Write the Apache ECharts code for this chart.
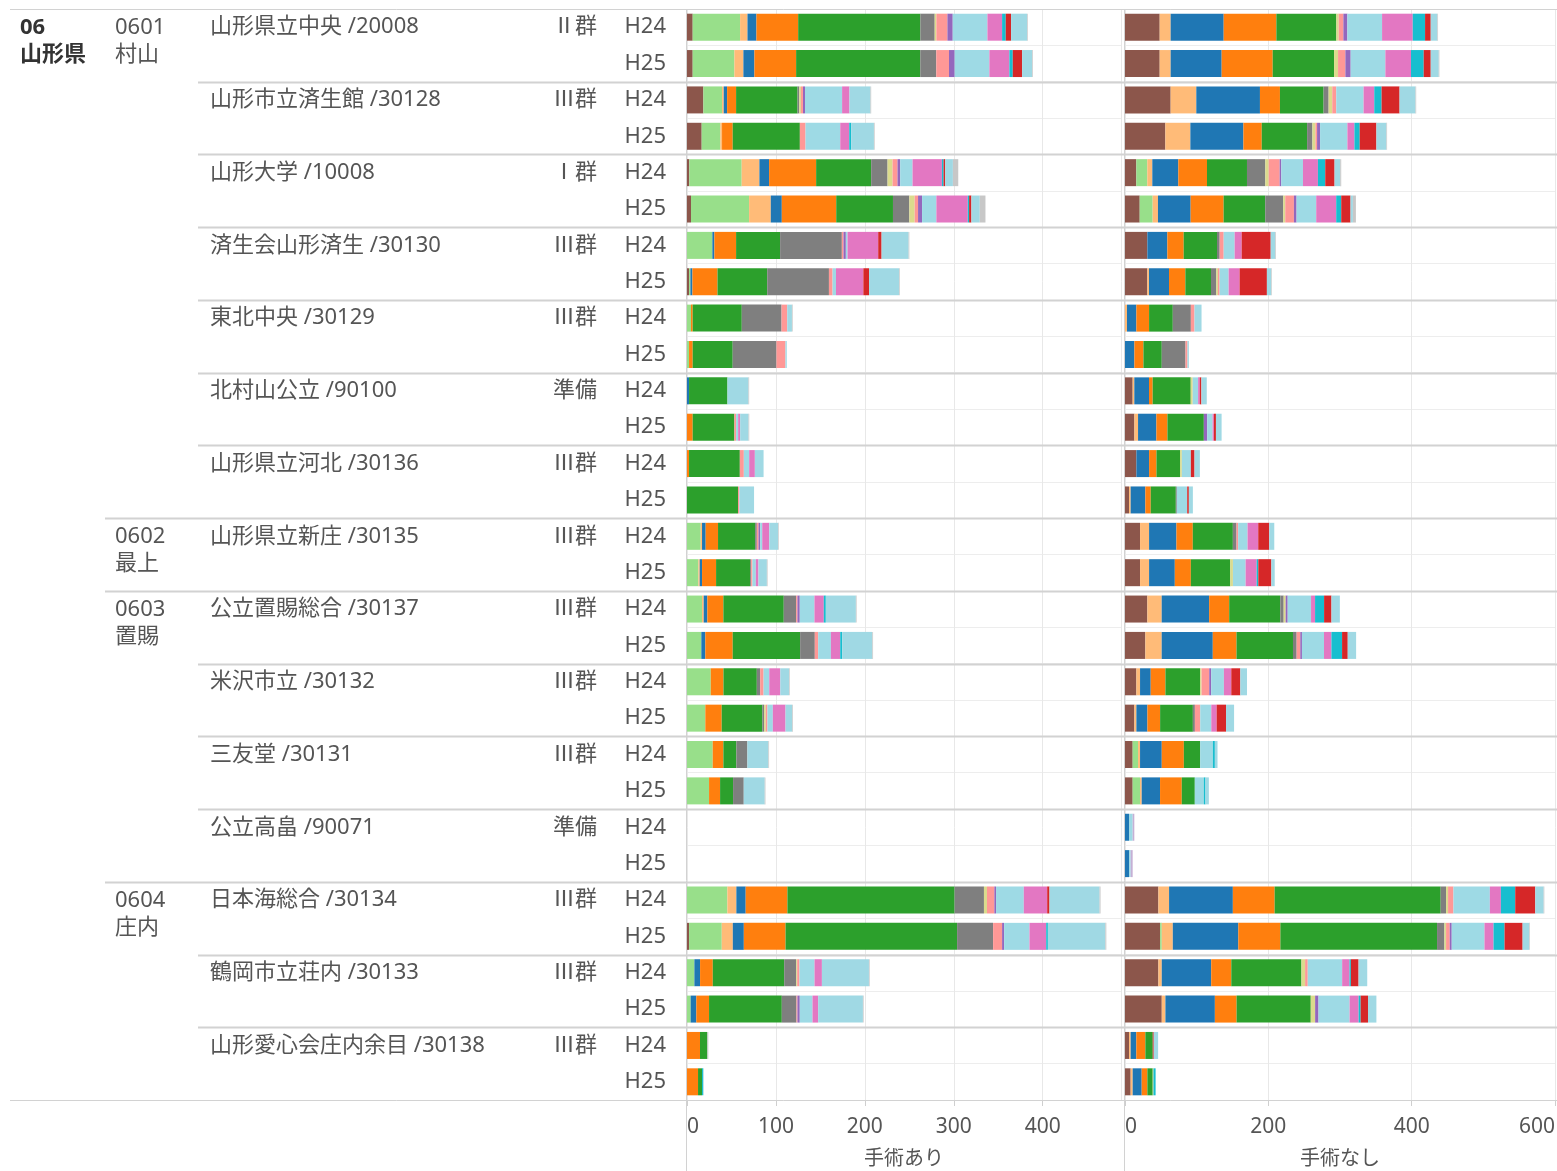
<!DOCTYPE html>
<html><head><meta charset="utf-8">
<script src="https://cdn.jsdelivr.net/npm/echarts@6/dist/echarts.min.js"></script>
<style>html,body{margin:0;padding:0;background:#fff}#main{width:1557px;height:1171px}</style>
</head><body><div id="main"></div><script>
// ---------- DATA ----------
const prefCode = '06';
const prefName = '山形県';
const regionCodes = ['0601', '0602', '0603', '0604'];
const regionNames = ['村山', '最上', '置賜', '庄内'];
const hospitalRegion = [0,0,0,0,0,0,0,1,2,2,2,2,3,3,3];
const hospitals = ['山形県立中央 /20008','山形市立済生館 /30128','山形大学 /10008','済生会山形済生 /30130','東北中央 /30129','北村山公立 /90100','山形県立河北 /30136','山形県立新庄 /30135','公立置賜総合 /30137','米沢市立 /30132','三友堂 /30131','公立高畠 /90071','日本海総合 /30134','鶴岡市立荘内 /30133','山形愛心会庄内余目 /30138'];
const groups = ['Ⅱ群','Ⅲ群','Ⅰ群','Ⅲ群','Ⅲ群','準備','Ⅲ群','Ⅲ群','Ⅲ群','Ⅲ群','Ⅲ群','準備','Ⅲ群','Ⅲ群','Ⅲ群'];
const years = ['H24', 'H25'];
const panelTitles = ['手術あり', '手術なし'];
const segColors = ['#8c564b','#98df8a','#ffbb78','#1f77b4','#ff7f0e','#2ca02c','#7f7f7f','#dbdb8d','#ff9896','#9467bd','#9edae5','#e377c2','#17becf','#d62728','#a0d9e4','#c7c7c7','#c5b0d5'];

// 手術あり (30 rows: hospital x year)
const ari01 = [6.4,6.4,18.4,16.5,2.6,4.5,0,2.3,0,0,0,0,0,0,0,0,0,0,0,0,0,0,0,0,0,2.3,0,0,0,0];
const ari02 = [53.3,46.9,21,21,58.9,65.3,28.5,1.5,4.5,2.3,0,0,0,0,15.4,12.8,16.9,16.1,26.7,20.6,28.9,24.8,0,0,45.4,36.8,8.3,4.1,0,0];
const ari03 = [8.3,10.1,1.9,1.9,19.9,24.4,0,0,0,0,0,0,0,0,1.5,1.5,1.9,0,0,0,0,0,0,0,10.1,12.4,0,0,0,0];
const ari04 = [10.1,12.4,3.8,0,10.9,12.4,2.3,2.3,0,0,2.3,0,0,0,4.1,2.6,4.1,4.5,0,0,0,0,0,0,10.5,12.4,6.4,6.4,0,0];
const ari05 = [46.9,46.9,10.1,12,52.9,61.2,24.4,28.2,1.9,4.1,0,6.4,2.3,0,13.9,15.8,18,30.8,14.3,18.4,12,12.4,0,0,46.9,46.9,14.3,14.3,14.6,12.4];
const ari06 = [137.4,139.6,69.1,75.5,61.9,63.8,49.5,55.9,55.2,45,43.2,46.9,57.1,57.4,41.7,38.3,67.9,75.8,37.5,45.8,14.6,14.6,0,0,188,192.9,80.3,81.8,8.3,4.5];
const ari07 = [16.1,18,1.9,0,18.4,18.4,69.4,69.4,44.7,49.2,0,0,0,0,1.9,1.1,13.9,16.5,3.8,1.9,12.4,12,0,0,33,40.5,13.5,16.5,0,0];
const ari08 = [1.9,0,1.9,0,5.6,6,0,0,0,0,0,0,0,0,0,0,0,0,0,1.9,0,0,0,0,3.4,0,1.1,0,0,0];
const ari09 = [12.4,14.3,2.3,6.4,5.6,3.8,1.9,4.1,6.4,10.1,0,1.9,4.5,1.5,1.9,1.5,1.5,3.8,3.8,1.9,0,0,0,0,8.3,10.1,2.6,1.1,0,0];
const ari10 = [6,6.4,2.3,0,3,4.5,2.6,0,0,0,0,0,0,0,1.9,0,2.6,0,0,0,0,0,0,0,1.9,2.3,0,2.6,0,0];
const ari11 = [39,39,41.7,39,13.9,16.1,1.9,3.8,0,0,0,2.3,6,0,2.3,3.8,16.5,14.3,6.4,6,0,0,0,0,31.2,28.5,16.9,14.3,0,0];
const ari12 = [16.5,22.5,8.3,10.1,33,35.3,34.5,30.8,0,0,0,2.3,6.4,0,7.9,3,10.5,10.5,12.4,14.3,0,0,0,0,26.3,18.8,8.3,6.4,0,0];
const ari13 = [4.1,3.8,0,2.3,1.9,1.5,0,0,0,0,0,0,0,0,0,0,2.3,2.3,0,0,0,0,0,0,0,1.9,0,0,0,1.1];
const ari14 = [6,10.5,0,0,1.9,2.6,3.8,6.4,0,0,0,0,0,0,0,0,0,0,0,0,0,0,0,0,2.6,0,0,0,0,0];
const ari15 = [18,11.3,23.6,25.5,8.6,9.4,30.4,33.8,5.3,1.5,23.6,9.4,9.8,16.5,9.8,9.4,33.8,33.8,9.8,7.5,23.6,23.6,0,0,56.3,64.6,52.9,50.3,0,0.8];
const ari16 = [0.8,0.8,0.8,0.8,6,6.4,0.8,0.8,0.8,0,0.8,0.8,0,0,0.8,0.8,0.8,0.8,0.8,0.8,0.8,0.8,0,0,1.1,1.1,0.8,0.8,1.1,0];
const ari17 = [0,0,0,0,0,0,0,0,0,0,0,0,0,0,0,0,0,0,0,0,0,0,0,0,0,0,0,0,0,0];

// 手術なし
const nashi01 = [48.4,48.4,63.7,56.3,15.8,20.5,31.2,31.2,0,0,10.7,13.1,15.9,5.6,21,21,31.2,28.4,15.9,13.1,10.7,10.7,0,0,46.6,49,46.6,51.3,5.6,7.9];
const nashi02 = [0,0,0,0,15.3,18.1,0,0,0,0,0,0,0,0,0,0,0,0,0,0,7.5,10.3,0,0,0,2.3,0,0,0,0];
const nashi03 = [15.3,15.3,35.8,34.9,7,7.4,0,2.3,2.8,0,2.3,5.1,0,2.3,12.6,12.6,20,22.8,5.1,2.8,2.8,2.3,0,0,14.9,15.4,4.7,5.1,2.3,2.8];
const nashi04 = [74,71.2,88.8,74,36.3,45.6,27.9,27.9,13.1,13.1,20.5,25.6,17.7,20.5,38.2,35.9,66.2,71.3,14.9,15.4,30.3,25.6,5.6,5.6,89,91.4,69,69,7.9,12.6];
const nashi05 = [73.5,71.2,27.9,25.6,40,46,22.8,22.8,17.7,12.6,5.1,15.4,10.3,7.5,22.8,22.4,28,33.1,20.5,17.7,30.8,30.3,0,0,58.3,58.7,28,30.3,12.6,7.9];
const nashi06 = [83.7,85.6,60.9,63.3,55.8,58.1,46.5,35.8,33.1,25.6,53.1,50.8,33.1,35,55.9,55,71.3,78.8,48.5,45.7,22.8,18.2,0,0,231.7,218.6,97.9,103.5,10.3,7.5];
const nashi07 = [0,0,7,7.4,25.6,25.1,3.7,7.4,25.2,33.1,0,0,0,1.4,5.1,0,4.7,5.1,0,2.8,0,0,0,0,7.5,10.3,0,0,0,0];
const nashi08 = [3.3,5.6,5.1,4.2,4.7,2.8,0,2.3,0,0,2.8,0,2.3,0,0,3.7,2.8,0,1.9,0,0,0,0,0,2.8,2.3,5.1,6.1,0,1];
const nashi09 = [6.5,10.2,5.6,2.3,15.3,12.1,5.6,2.3,5.1,2.8,0,0,0,0,2.3,0,0,5.1,10.7,7.5,0,0,0,0,7.5,5.1,3.7,0,0,0];
const nashi10 = [5.6,7.4,0,4.2,2.3,3.7,0,0,0,0,0,4.7,0,0,0,0,2.8,2.3,2.8,0,0,0,0,0,0,2.8,0,4.7,0,0];
const nashi11 = [48.4,48.4,38.1,38.1,30.2,27.4,15.3,12.6,0,0,7.5,7.5,12.6,14.5,13.1,17.7,32.6,30.8,17.7,15.4,17.7,12.6,5.1,2.3,50.8,45.7,48,43.4,0,0];
const nashi12 = [42.8,35.8,14.9,9.8,20.9,27.9,9.8,15.3,0,0,2.3,1.9,0,0,14.9,15.4,5.6,10.3,10.3,7.5,0,0,0,0,15.4,12.6,10.3,12.6,0,0];
const nashi13 = [17.2,17.7,10.2,7.4,10.2,7,0,0,0,0,0,0,0,0,0,2.3,12.6,14.9,0,0,2.8,2.3,0,0,20,15.4,1.9,2.8,0,3];
const nashi14 = [7.9,9.8,25.1,23.3,13,13,40.5,38.1,0,0,2.3,2.8,5.1,2.3,15.4,18.2,10.3,7.9,12.6,13.1,0,0,0,0,28,25.2,10.7,10.3,1.4,0];
const nashi15 = [9.3,11.2,22.3,14,7.9,3.3,6.5,6,9.8,1.9,7.5,7.9,7.5,5.6,7,4.7,11.7,11.7,9.3,11.2,3.7,4.7,0,0,11.7,9.3,12.1,11.7,6.1,0];
const nashi16 = [0.9,0.9,0.9,0.9,1.4,4.2,0.9,0.9,0,0,0,0,0,0,0,0,0,0,0,0,0,0,0,0,0.9,0.9,0,0,0,0];
const nashi17 = [0,0,0,0,0,0,0,0,0,0,0,0,0,0,0,0,0,0,0,0,0,0,2.3,2.8,0,0,0,0,0,0];

// ---------- CHART ----------
const ariSegs = [ari01,ari02,ari03,ari04,ari05,ari06,ari07,ari08,ari09,ari10,ari11,ari12,ari13,ari14,ari15,ari16,ari17];
const nashiSegs = [nashi01,nashi02,nashi03,nashi04,nashi05,nashi06,nashi07,nashi08,nashi09,nashi10,nashi11,nashi12,nashi13,nashi14,nashi15,nashi16,nashi17];
const rowIds = [];
hospitals.forEach((h, i) => years.forEach(y => rowIds.push(i + '|' + y)));

const FONT = '"Noto Sans", "Noto Sans CJK JP", sans-serif';
const TXT = '#555555';
const chart = echarts.init(document.getElementById('main'));

function xAxisCfg(gi, max, interval, title) {
  return {
    gridIndex: gi, type: 'value', min: 0, max: max, interval: interval,
    axisLine: { show: false },
    axisTick: { show: true, length: 6, lineStyle: { color: '#cfcfcf' } },
    splitLine: { show: true, lineStyle: { color: '#e8e8e8', width: 1 } },
    axisLabel: { fontSize: 21, color: TXT, fontFamily: FONT, margin: 17,
      showMaxLabel: gi === 1, alignMinLabel: 'left', alignMaxLabel: 'right' },
    name: title, nameLocation: 'middle', nameGap: 49,
    nameTextStyle: { fontSize: 20, color: TXT, fontFamily: FONT }
  };
}
function yAxisCfg(gi) {
  return {
    gridIndex: gi, type: 'category', inverse: true, data: rowIds,
    axisLine: { show: false }, axisTick: { show: false },
    splitLine: { show: true, lineStyle: { color: '#ededed', width: 1 } },
    axisLabel: { show: gi === 0, fontSize: 22, color: TXT, fontFamily: FONT, margin: 21,
      formatter: v => v.split('|')[1] }
  };
}

const series = [];
ariSegs.forEach((d, k) => series.push({
  type: 'bar', name: 'a' + k, xAxisIndex: 0, yAxisIndex: 0, stack: 'ari', data: d,
  barWidth: 27, itemStyle: { color: segColors[k] }, silent: true
}));
nashiSegs.forEach((d, k) => series.push({
  type: 'bar', name: 'n' + k, xAxisIndex: 1, yAxisIndex: 1, stack: 'nashi', data: d,
  barWidth: 27, itemStyle: { color: segColors[k] }, silent: true
}));

chart.setOption({
  animation: false,
  backgroundColor: '#ffffff',
  grid: [
    { left: 687, top: 9, width: 434, height: 1091, containLabel: false, outerBoundsMode: 'none' },
    { left: 1125, top: 9, width: 430, height: 1091, containLabel: false, outerBoundsMode: 'none' }
  ],
  xAxis: [xAxisCfg(0, 488, 100, panelTitles[0]), xAxisCfg(1, 600, 200, panelTitles[1])],
  yAxis: [yAxisCfg(0), yAxisCfg(1)],
  series: series
});

// ---------- LEFT HEADER TEXT & DIVIDERS (positioned from the category axis) ----------
const yc = i => chart.convertToPixel({ yAxisIndex: 0 }, i);
const rowH = yc(1) - yc(0);
const topY = yc(0) - rowH / 2;
const botY = yc(rowIds.length - 1) + rowH / 2;
const g = [];
const LINE = '#d2d2d2';
function hline(x1, y, x2, w) {
  g.push({ type: 'line', silent: true, z: 5, shape: { x1: x1, y1: Math.round(y) + 0.5, x2: x2, y2: Math.round(y) + 0.5 },
    style: { stroke: LINE, lineWidth: w || 1 } });
}
hline(10, topY, 1557, 1);
hline(10, botY, 1557, 1);
[686, 1124].forEach(x => g.push({ type: 'line', silent: true, z: 5,
  shape: { x1: x + 0.5, y1: topY, x2: x + 0.5, y2: 1171 }, style: { stroke: LINE, lineWidth: 1 } }));

g.push({ type: 'text', silent: true, x: 20, y: yc(0) - 13,
  style: { text: prefCode + '\n' + prefName, font: 'bold 22px ' + FONT, fill: '#333333',
    lineHeight: 27, verticalAlign: 'top', align: 'left' } });

hospitals.forEach((h, i) => {
  const r = i * 2;
  const cy = yc(r);
  if (i > 0) {
    const by = (yc(r - 1) + cy) / 2;
    const newRegion = hospitalRegion[i] !== hospitalRegion[i - 1];
    hline(newRegion ? 105 : 198, by, 1557, 2);
  }
  if (i === 0 || hospitalRegion[i] !== hospitalRegion[i - 1]) {
    const ri = hospitalRegion[i];
    g.push({ type: 'text', silent: true, x: 115, y: cy - 13,
      style: { text: regionCodes[ri] + '\n' + regionNames[ri], font: '22px ' + FONT, fill: TXT,
        lineHeight: 27, verticalAlign: 'top', align: 'left' } });
  }
  g.push({ type: 'text', silent: true, x: 210, y: cy,
    style: { text: h, font: '22px ' + FONT, fill: TXT, verticalAlign: 'middle', align: 'left' } });
  g.push({ type: 'text', silent: true, x: 597, y: cy,
    style: { text: groups[i], font: '22px ' + FONT, fill: TXT, verticalAlign: 'middle', align: 'right' } });
});
chart.setOption({ graphic: { elements: g } });
</script></body></html>
